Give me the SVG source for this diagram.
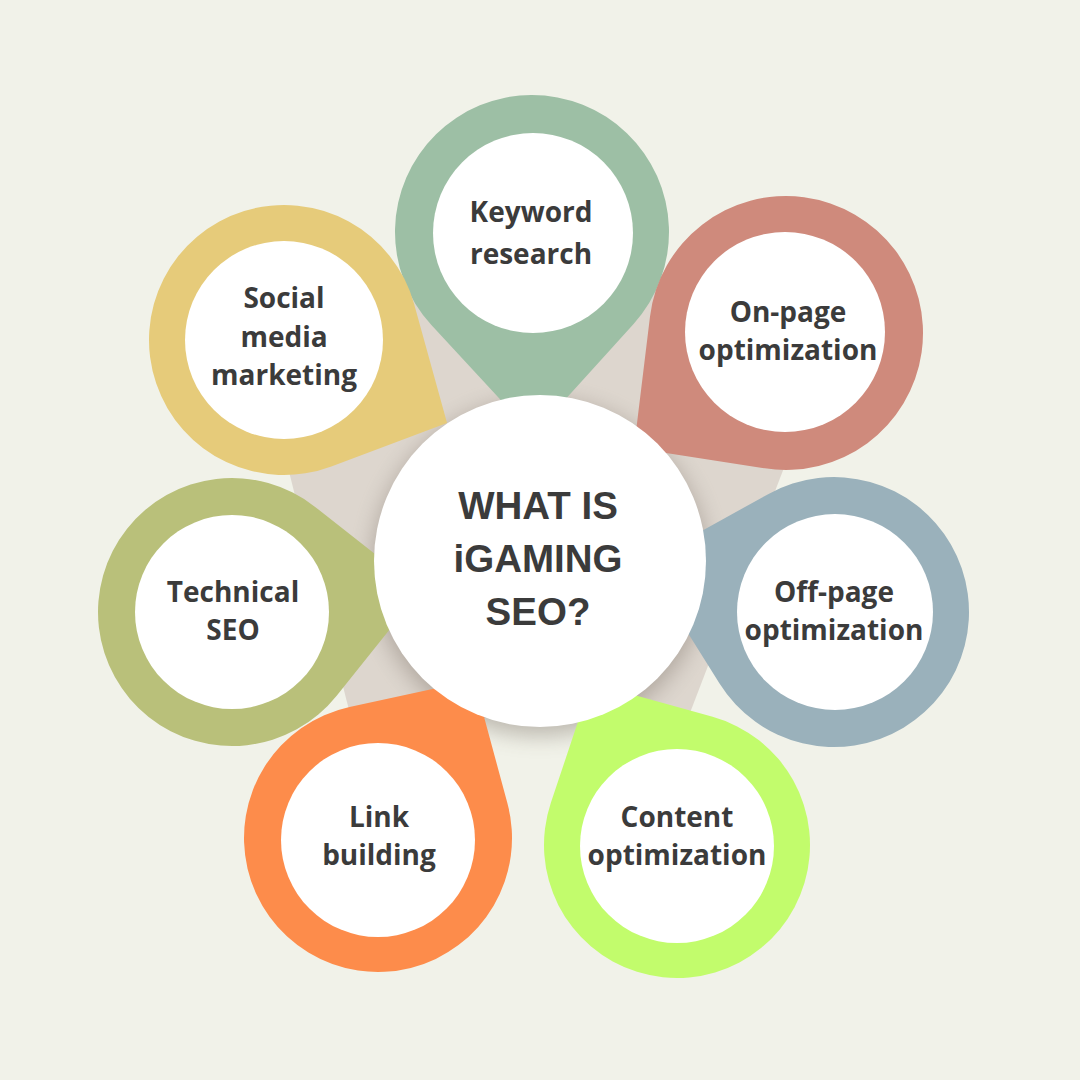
<svg xmlns="http://www.w3.org/2000/svg" width="1080" height="1080" viewBox="0 0 1080 1080">
  <defs>
    <style>
      .inner { fill: #ffffff; }
      .label { font-family: "Open Sans", "DejaVu Sans", sans-serif; font-weight: 700; font-size: 28px; fill: #3b3b3b; text-anchor: middle; }
      .title { font-family: "Liberation Sans", Arial, sans-serif; font-weight: 700; font-size: 38.5px; fill: #3b3b3b; text-anchor: middle; }
    </style>
    <filter id="soft" x="-30%" y="-30%" width="160%" height="160%">
      <feGaussianBlur stdDeviation="11"/>
    </filter>
  </defs>

  <rect width="1080" height="1080" fill="#f1f2e9"/>

  <!-- backdrop polygon and shadow of the centre circle -->
  <g id="backdrop">
    <polygon points="351,718 271,400 400,290 540,250 680,290 810,400 688,718" fill="#ddd6ce"/>
    <circle cx="540" cy="568" r="168" fill="#7a6f66" opacity="0.45" filter="url(#soft)"/>
  </g>

  <g id="connectors"></g>

  <g id="node-keyword">
    <path transform="translate(532,232) rotate(89.7)" d="M203,0 L92.46,101.1 A137,137 0 1 1 92.46,-101.1 Z" fill="#9dbfa5"/>
    <circle class="inner" cx="533" cy="233" r="100"/>
    <text class="label" x="531" y="222">Keyword</text>
    <text class="label" x="531" y="264">research</text>
  </g>

  <g id="node-onpage">
    <path transform="translate(786,333) rotate(142.9)" d="M190.6,0 L98.47,95.24 A137,137 0 1 1 98.47,-95.24 Z" fill="#cf8a7c"/>
    <circle class="inner" cx="785" cy="332" r="100"/>
    <text class="label" x="788" y="322">On-page</text>
    <text class="label" x="788" y="360">optimization</text>
  </g>

  <g id="node-offpage">
    <path transform="translate(834,612) rotate(194.5)" d="M196.2,0 L92.89,97.96 A135,135 0 1 1 92.89,-97.96 Z" fill="#9ab1bb"/>
    <circle class="inner" cx="835" cy="612" r="98"/>
    <text class="label" x="834" y="602">Off-page</text>
    <text class="label" x="834" y="640">optimization</text>
  </g>

  <g id="node-content">
    <path transform="translate(677,845) rotate(242)" d="M183.4,0 L96.45,91.58 A133,133 0 1 1 96.45,-91.58 Z" fill="#c2fc6c"/>
    <circle class="inner" cx="677" cy="846" r="97"/>
    <text class="label" x="677" y="827">Content</text>
    <text class="label" x="677" y="865">optimization</text>
  </g>

  <g id="node-link">
    <path transform="translate(378,838) rotate(-58.7)" d="M184.9,0 L97.11,92.34 A134,134 0 1 1 97.11,-92.34 Z" fill="#fd8c4b"/>
    <circle class="inner" cx="378" cy="840" r="97"/>
    <text class="label" x="379" y="827">Link</text>
    <text class="label" x="379" y="865">building</text>
  </g>

  <g id="node-technical">
    <path transform="translate(232,612) rotate(-6.6)" d="M190.3,0 L94.36,95.15 A134,134 0 1 1 94.36,-95.15 Z" fill="#b9c07a"/>
    <circle class="inner" cx="232" cy="612" r="97"/>
    <text class="label" x="233" y="602">Technical</text>
    <text class="label" x="233" y="640">SEO</text>
  </g>

  <g id="node-social">
    <path transform="translate(284,340) rotate(27)" d="M183,0 L99.59,91.14 A135,135 0 1 1 99.59,-91.14 Z" fill="#e6cb7a"/>
    <circle class="inner" cx="284" cy="340" r="99"/>
    <text class="label" x="284" y="308">Social</text>
    <text class="label" x="284" y="347">media</text>
    <text class="label" x="284" y="385">marketing</text>
  </g>

  <g id="node-center">
    <circle cx="540" cy="561" r="166" fill="#ffffff"/>
    <text class="title" x="538" y="519">WHAT IS</text>
    <text class="title" x="538" y="572">iGAMING</text>
    <text class="title" x="538" y="625">SEO?</text>
  </g>
</svg>
